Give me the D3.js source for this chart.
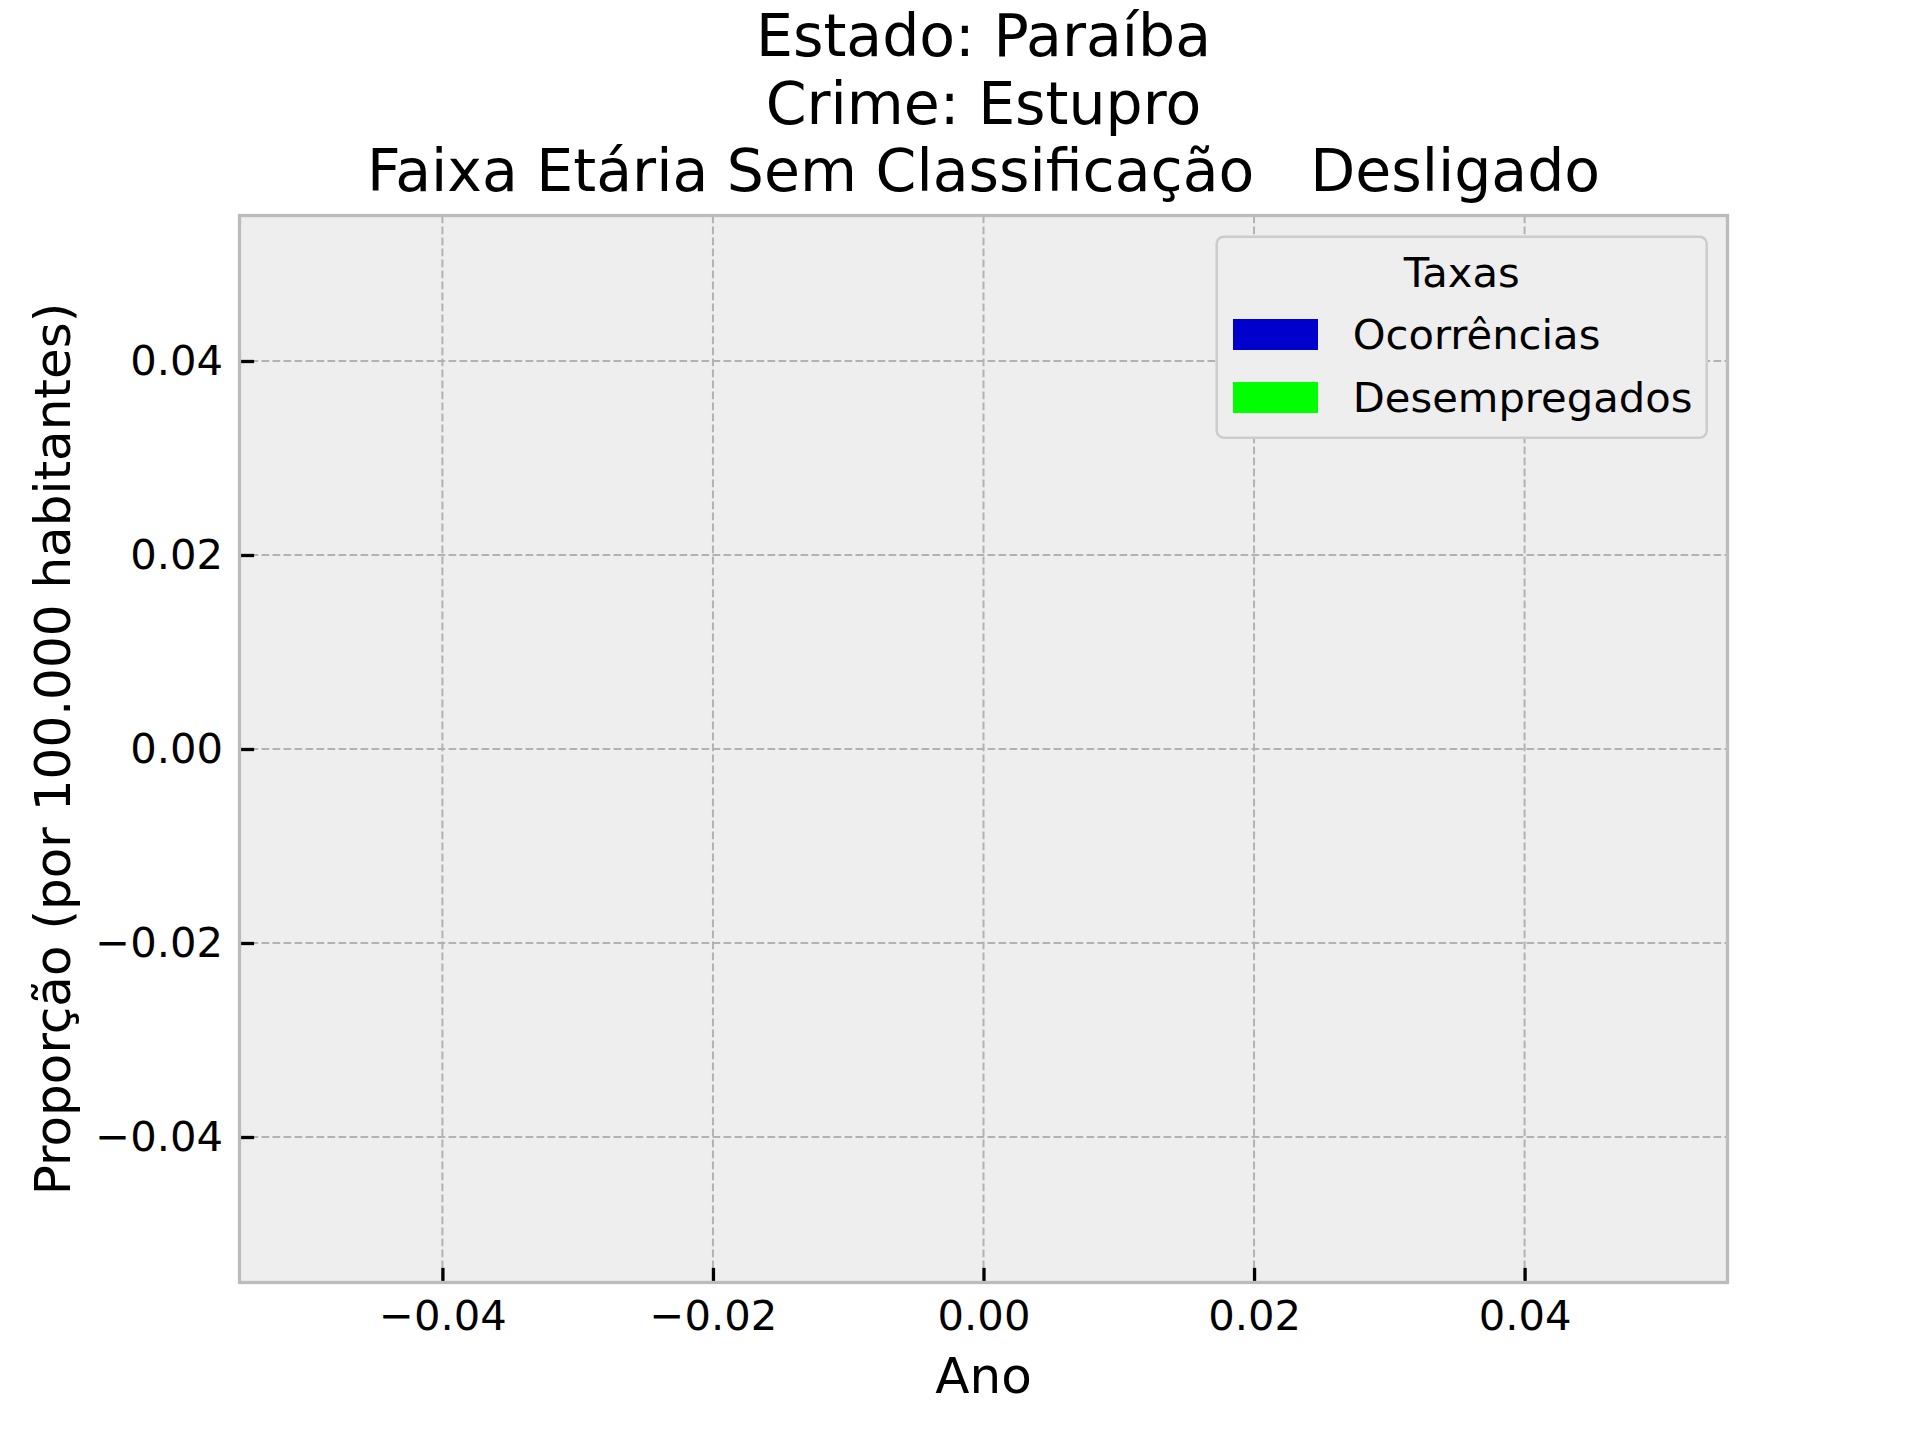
<!DOCTYPE html>
<html>
<head>
<meta charset="utf-8">
<script src="https://cdn.jsdelivr.net/npm/d3@7"></script>
<style>
  html, body { margin: 0; padding: 0; background: #ffffff; }
  svg { display: block; }
  text { font-family: "DejaVu Sans", sans-serif; fill: #000; }
</style>
</head>
<body>
<svg id="chart" width="1920" height="1440"></svg>
<script>
// ---- data (the reference chart contains no observations) ----
const years = [];
const occurrences = [];
const unemployed = [];
const seriesNames = ["Ocorrências", "Desempregados"];
const seriesColors = ["#0000cc", "#00ff00"];
const xTicks = [-0.04, -0.02, 0.00, 0.02, 0.04];
const yTicks = [-0.04, -0.02, 0.00, 0.02, 0.04];
const xDomain = [-0.055, 0.055];
const yDomain = [-0.055, 0.055];
const titleLines = ["Estado: Paraíba", "Crime: Estupro", "Faixa Etária Sem Classificação\u00a0\u00a0\u00a0Desligado"];
const xLabel = "Ano";
const yLabel = "Proporção (por 100.000 habitantes)";
const legendTitle = "Taxas";

// ---- layout ----
const svg = d3.select("#chart");
const L = 239.5, R = 1727.5, T = 215.5, B = 1282.5;
const x = d3.scaleLinear().domain(xDomain).range([L, R]);
const y = d3.scaleLinear().domain(yDomain).range([B, T]);
const fmt = v => (v < 0 ? "\u2212" : "") + d3.format(".2f")(Math.abs(v));

// background
svg.append("rect").attr("x", L).attr("y", T).attr("width", R - L).attr("height", B - T)
  .attr("fill", "#eeeeee");

// grid
const grid = svg.append("g").attr("stroke", "#b2b2b2").attr("stroke-width", 2)
  .attr("stroke-dasharray", "7.7,3.3");
grid.selectAll(".gx").data(xTicks).join("line")
  .attr("x1", d => x(d)).attr("x2", d => x(d)).attr("y1", T).attr("y2", B);
grid.selectAll(".gy").data(yTicks).join("line")
  .attr("y1", d => y(d)).attr("y2", d => y(d)).attr("x1", L).attr("x2", R);

// bars (none in the reference)
const barW = 0.35;
const bars = svg.append("g");
bars.selectAll(".occ").data(years.map((yr, i) => ({yr, v: occurrences[i]}))).join("rect")
  .attr("x", d => x(d.yr - barW)).attr("width", d => x(d.yr) - x(d.yr - barW))
  .attr("y", d => y(Math.max(0, d.v))).attr("height", d => Math.abs(y(d.v) - y(0)))
  .attr("fill", seriesColors[0]);
bars.selectAll(".une").data(years.map((yr, i) => ({yr, v: unemployed[i]}))).join("rect")
  .attr("x", d => x(d.yr)).attr("width", d => x(d.yr + barW) - x(d.yr))
  .attr("y", d => y(Math.max(0, d.v))).attr("height", d => Math.abs(y(d.v) - y(0)))
  .attr("fill", seriesColors[1]);

// axes
const xAxis = svg.append("g").attr("transform", `translate(0,${B})`)
  .call(d3.axisBottom(x).tickValues(xTicks).tickFormat(fmt).tickSize(-14.6).tickPadding(17.5));
const yAxis = svg.append("g").attr("transform", `translate(${L},0)`)
  .call(d3.axisLeft(y).tickValues(yTicks).tickFormat(fmt).tickSize(-14.6).tickPadding(16.5));
[xAxis, yAxis].forEach(a => {
  a.select(".domain").remove();
  a.selectAll(".tick line").attr("stroke", "#000").attr("stroke-width", 3.3);
  a.selectAll(".tick text").attr("font-size", 41.7).attr("font-family", "DejaVu Sans").attr("fill", "#000");
});

// frame
svg.append("rect").attr("x", L).attr("y", T).attr("width", R - L).attr("height", B - T)
  .attr("fill", "none").attr("stroke", "#bcbcbc").attr("stroke-width", 3.3);

// titles
const cx = (L + R) / 2;
svg.append("g").selectAll("text").data(titleLines).join("text")
  .attr("x", cx).attr("y", (d, i) => 56 + i * 67.5)
  .attr("text-anchor", "middle").attr("font-size", 58.5).text(d => d);

svg.append("text").attr("x", cx).attr("y", 1393).attr("text-anchor", "middle")
  .attr("font-size", 50).text(xLabel);
svg.append("text").attr("transform", `translate(70,${(T + B) / 2}) rotate(-90)`)
  .attr("text-anchor", "middle").attr("font-size", 50).text(yLabel);

// legend
const lg = svg.append("g");
lg.append("rect").attr("x", 1216.7).attr("y", 236.7).attr("width", 490).attr("height", 201)
  .attr("rx", 7).attr("ry", 7).attr("fill", "#eeeeee").attr("stroke", "#cccccc").attr("stroke-width", 2.5);
lg.append("text").attr("x", 1461.7).attr("y", 286.7).attr("text-anchor", "middle")
  .attr("font-size", 41.7).text(legendTitle);
const items = lg.selectAll(".item").data(seriesNames).join("g")
  .attr("transform", (d, i) => `translate(0,${i * 63})`);
items.append("rect").attr("x", 1233).attr("y", 319).attr("width", 85).attr("height", 31)
  .attr("fill", (d, i) => seriesColors[i]);
items.append("text").attr("x", 1352.7).attr("y", 349.3).attr("font-size", 41.7).text(d => d);
</script>
</body>
</html>
